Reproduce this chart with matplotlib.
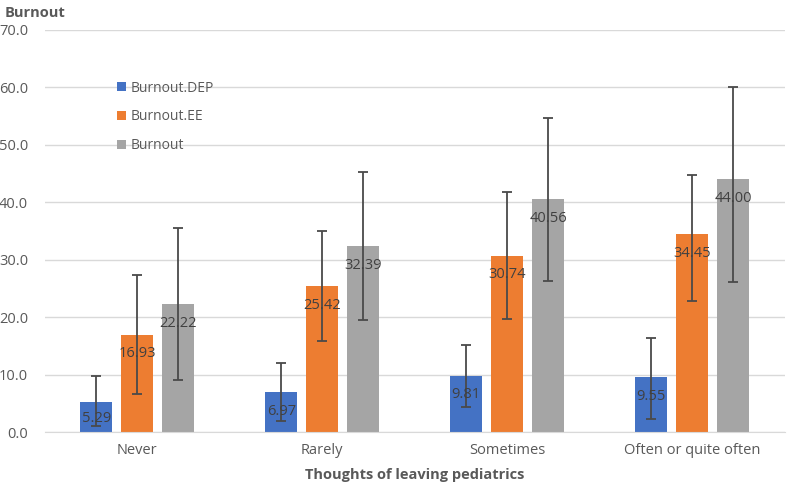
import numpy as np
import matplotlib.pyplot as plt

plt.rcParams['font.family'] = ['Open Sans', 'DejaVu Sans']

# Data
categories = ['Never', 'Rarely', 'Sometimes', 'Often or quite often']
series = ['Burnout.DEP', 'Burnout.EE', 'Burnout']
dep = [5.29, 6.97, 9.81, 9.55]
ee = [16.93, 25.42, 30.74, 34.45]
burnout = [22.22, 32.39, 40.56, 44.00]
# error bar extents (lower, upper)
dep_err_lo = [4.3, 5.0, 5.4, 7.3]
dep_err_hi = [4.4, 5.0, 5.4, 6.8]
ee_err_lo = [10.3, 9.6, 11.1, 11.6]
ee_err_hi = [10.4, 9.6, 11.1, 10.3]
bo_err_lo = [13.2, 12.8, 14.2, 17.8]
bo_err_hi = [13.3, 12.8, 14.1, 16.0]

colors = ['#4472C4', '#ED7D31', '#A5A5A5']
text_col = '#404040'

fig = plt.figure(figsize=(7.87, 4.9), dpi=100)
ax = fig.add_axes([0.057, 0.118, 0.940, 0.821])

x = np.arange(len(categories))
width = 0.173
step = 0.222
values = [dep, ee, burnout]
errs = [(dep_err_lo, dep_err_hi), (ee_err_lo, ee_err_hi), (bo_err_lo, bo_err_hi)]

ax.set_ylim(0, 70)
ax.set_xlim(-0.5, len(categories) - 0.5)

px_per_unit = 0.821 * 490 / 70

for i, (vals, err, col, name) in enumerate(zip(values, errs, colors, series)):
    pos = x + (i - 1) * step
    ax.bar(pos, vals, width, color=col, label=name, zorder=2)
    ax.errorbar(pos, vals, yerr=[err[0], err[1]], fmt='none', ecolor='#4a4a4a',
                elinewidth=1.3, capsize=3.5, capthick=1.3, zorder=3)
    for p, v in zip(pos, vals):
        off = min(19, v * px_per_unit / 2 + 2)
        ax.annotate(f'{v:.2f}', (p, v), xytext=(0, -off), textcoords='offset pixels',
                    ha='center', va='center', fontsize=10.5, color=text_col, zorder=4)

ax.set_yticks(np.arange(0, 71, 10))
ax.set_yticklabels([f'{t:.1f}' for t in np.arange(0, 71, 10)], fontsize=10.5, color='#595959')
ax.set_xticks(x)
ax.set_xticklabels(categories, fontsize=10.5, color='#595959')
ax.tick_params(length=0, pad=8)
ax.tick_params(axis='y', pad=12)
ax.grid(axis='y', color='#D9D9D9', linewidth=1, zorder=0)
for s in ['top', 'right', 'left']:
    ax.spines[s].set_visible(False)
ax.spines['bottom'].set_color('#D9D9D9')

ax.set_xlabel('Thoughts of leaving pediatrics', fontsize=10.5, fontweight='bold',
              color='#595959', labelpad=7)
fig.text(0.006, 0.988, 'Burnout', fontsize=10.5, fontweight='bold', color='#595959',
         ha='left', va='top')

ax.legend(loc='upper left', bbox_to_anchor=(0.08, 0.905), frameon=False, fontsize=10,
          handlelength=0.65, handleheight=0.65, handletextpad=0.35, labelspacing=1.0,
          labelcolor='#595959')

fig.savefig('out.png', dpi=100)
